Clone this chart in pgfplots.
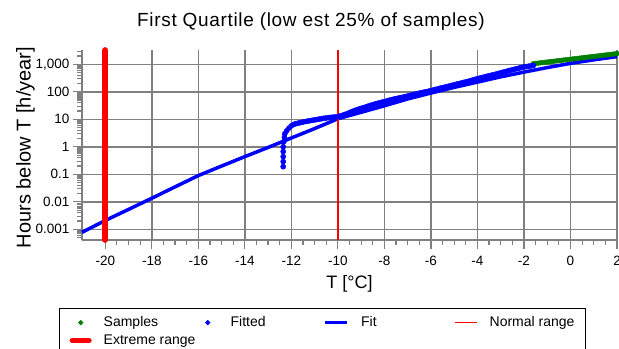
\documentclass[border=0pt]{standalone}
\usepackage{fontspec}
\setmainfont{Liberation Sans}
\usepackage{pgfplots}
\pgfplotsset{compat=1.18}
\definecolor{gridgray}{RGB}{128,128,128}
\definecolor{fitblue}{RGB}{0,0,255}
\definecolor{samplegreen}{RGB}{0,128,0}
\definecolor{pured}{RGB}{255,0,0}
\begin{document}
\begin{tikzpicture}
\begin{axis}[
  at={(82bp,109bp)}, anchor=south west,
  scale only axis, width=535bp, height=190bp,
  xmin=-21, xmax=2, ymode=log, ymin=4.1e-4, ymax=3310,
  clip=false,
  axis x line*=bottom, axis y line*=left,
  axis line style={gridgray, line width=1.5bp},
  xtick={-20,-18,-16,-14,-12,-10,-8,-6,-4,-2,0,2},
  xticklabels={-20,-18,-16,-14,-12,-10,-8,-6,-4,-2,0,2},
  minor x tick num=3,
  ytick={1e-3,1e-2,1e-1,1,10,100,1000},
  yticklabels={0.001,0.01,0.1,1,10,100,{1,000}},
  minor ytick={5e-4,6e-4,7e-4,8e-4,9e-4,
    2e-3,3e-3,4e-3,5e-3,6e-3,7e-3,8e-3,9e-3,
    0.02,0.03,0.04,0.05,0.06,0.07,0.08,0.09,
    0.2,0.3,0.4,0.5,0.6,0.7,0.8,0.9,
    2,3,4,5,6,7,8,9,20,30,40,50,60,70,80,90,
    200,300,400,500,600,700,800,900,2000,3000},
  tick align=outside,
  major tick length=9bp, minor tick length=5bp,
  tick style={gridgray, line width=1.2bp},
  grid=major, major grid style={gridgray, line width=1.5bp},
  tick label style={font=\fontsize{13.5bp}{16bp}\selectfont},
  xticklabel style={yshift=-4bp},
  title={\addfontfeature{LetterSpace=3.5}First Quartile (low est 25\% of samples)},
  title style={at={(axis description cs:0.428,1.092)}, anchor=base, font=\fontsize{19bp}{22bp}\selectfont},
  xlabel={T [°C]},
  xlabel style={at={(axis description cs:0.5,-0.254)}, anchor=base, font=\fontsize{18bp}{21bp}\selectfont},
  ylabel={Hours below T [h/year]},
  ylabel style={at={(axis description cs:-0.0959,0.487)}, anchor=base, font=\fontsize{20bp}{23bp}\selectfont},
  legend columns=4,
  legend cell align=left,
  legend style={at={(axis description cs:-0.043,-0.358)}, anchor=north west,
    draw=black, line width=1.2bp, fill=white,
    inner xsep=10bp, inner ysep=7.5bp, row sep=5bp,
    font=\fontsize{14bp}{16bp}\selectfont,
    nodes={inner sep=0pt, text height=10bp, text depth=3bp, anchor=west},
    /tikz/every even column/.append style={column sep=0pt}},
]
% Samples
\addplot[only marks, mark=*, mark size=2.4bp, samplegreen, mark options={draw=samplegreen, fill=samplegreen},
  legend image code/.code={\path[draw=none, fill=none] (0bp,-1bp) rectangle (22bp,1bp); \fill[samplegreen] (11bp,0bp) circle (1.9bp);}]
coordinates {
(-1.6,1050) (-1.5,1075) (-1.4,1100) (-1.3,1126) (-1.2,1153) (-1.1,1180) (-1.0,1208) (-0.9,1237)
(-0.8,1266) (-0.7,1296) (-0.6,1327) (-0.5,1359) (-0.4,1391) (-0.3,1424) (-0.2,1458) (-0.1,1493)
(0,1528) (0.1,1565) (0.2,1602) (0.3,1640) (0.4,1679) (0.5,1719) (0.6,1760) (0.7,1802) (0.8,1845)
(0.9,1889) (1.0,1934) (1.1,1980) (1.2,2027) (1.3,2075) (1.4,2125) (1.5,2175) (1.6,2227) (1.7,2280)
(1.8,2334) (1.9,2390) (2.0,2450)
};
\addlegendentry{\hspace*{12bp}\makebox[93bp][l]{Samples}}
% Fitted
\addplot[only marks, mark=*, mark size=2.6bp, fitblue, mark options={draw=fitblue, fill=fitblue},
  legend image code/.code={\path[draw=none, fill=none] (0bp,-1bp) rectangle (22bp,1bp); \fill[fitblue] (11bp,0bp) circle (1.9bp);}]
coordinates {
(-12.35,0.19) (-12.35,0.29) (-12.35,0.44) (-12.35,0.67) (-12.35,1.0) (-12.33,1.5) (-12.3,2.2)
(-12.28,3.0) (-12.2,3.8) (-12.1,4.8) (-12.0,5.8) (-11.9,6.5) (-11.8,7.0) (-11.7,7.3) (-11.6,7.6)
(-11.5,7.95) (-11.4,8.3) (-11.3,8.6) (-11.2,8.9) (-11.1,9.2) (-11.0,9.5) (-10.9,9.85) (-10.8,10.2)
(-10.7,10.5) (-10.6,10.9) (-10.5,11.2) (-10.4,11.5) (-10.3,11.7) (-10.2,12.0) (-10.1,12.2)
(-10.0,12.5) (-9.9,13.2) (-9.8,14) (-9.7,15) (-9.6,16) (-9.5,17.5) (-9.4,19) (-9.3,20.5)
(-9.2,22) (-9.1,23.5) (-9.0,25) (-8.9,26.5) (-8.8,28) (-8.7,30) (-8.6,32) (-8.5,34) (-8.4,36)
(-8.3,38) (-8.2,40) (-8.1,42) (-8.0,44) (-7.9,46.5) (-7.8,49) (-7.7,51.5) (-7.6,54) (-7.5,56.5)
(-7.4,59) (-7.3,61.5) (-7.2,64) (-7.1,67) (-7.0,70) (-6.9,73.5) (-6.8,77) (-6.7,81) (-6.6,85)
(-6.5,89) (-6.4,93) (-6.3,97) (-6.2,101) (-6.1,105) (-6.0,110) (-5.9,116) (-5.8,122) (-5.7,128)
(-5.6,135) (-5.5,141) (-5.4,148) (-5.3,155) (-5.2,163) (-5.1,171) (-5.0,180) (-4.9,189)
(-4.8,198) (-4.7,208) (-4.6,218) (-4.5,229) (-4.4,240) (-4.3,254) (-4.2,268) (-4.1,284)
(-4.0,300) (-3.9,315) (-3.8,330) (-3.7,347) (-3.6,365) (-3.5,382) (-3.4,400) (-3.3,420)
(-3.2,440) (-3.1,465) (-3.0,490) (-2.9,515) (-2.8,540) (-2.7,570) (-2.6,600) (-2.5,630)
(-2.4,660) (-2.3,695) (-2.2,730) (-2.1,765) (-2.0,800) (-1.9,825) (-1.8,850) (-1.7,875) (-1.6,900)
};
\addlegendentry{\hspace*{12bp}\makebox[93bp][l]{Fitted}}
% Fit
\addplot[fitblue, line width=3.5bp, no marks,
  legend image code/.code={\draw[fitblue, line width=3.5bp] (0bp,0bp) -- (22bp,0bp);}]
coordinates {
(-21,0.00078) (-20,0.0021) (-19,0.0053) (-18,0.0135) (-17,0.035) (-16,0.09) (-15,0.2)
(-14,0.44) (-13,0.95) (-12,2.1) (-11,4.6) (-10,10.5) (-9,18) (-8,31) (-7,55) (-6,90)
(-5,145) (-4,225) (-3,350) (-2,520) (-1,760) (0,1080) (1,1450) (2,1900)
};
\addlegendentry{\hspace*{12bp}\makebox[93bp][l]{Fit}}
% Normal range
\addplot[pured, line width=1.5bp, no marks,
  legend image code/.code={\draw[pured, line width=1.5bp] (0bp,0bp) -- (22bp,0bp);}]
coordinates {(-10,4.1e-4) (-10,3310)};
\addlegendentry{\hspace*{12bp}\makebox[86bp][l]{Normal range}}
% Extreme range
\addplot[pured, line width=5.7bp, line cap=round, no marks,
  legend image code/.code={\draw[pured, line width=5.7bp, line cap=round] (2.8bp,0bp) -- (19.2bp,0bp);}]
coordinates {(-20,4.1e-4) (-20,3310)};
\addlegendentry{\hspace*{12bp}\makebox[93bp][l]{Extreme range}}
\end{axis}
\pgfresetboundingbox
\path[use as bounding box] (0bp,0bp) rectangle (619bp,349bp);
\end{tikzpicture}
\end{document}
